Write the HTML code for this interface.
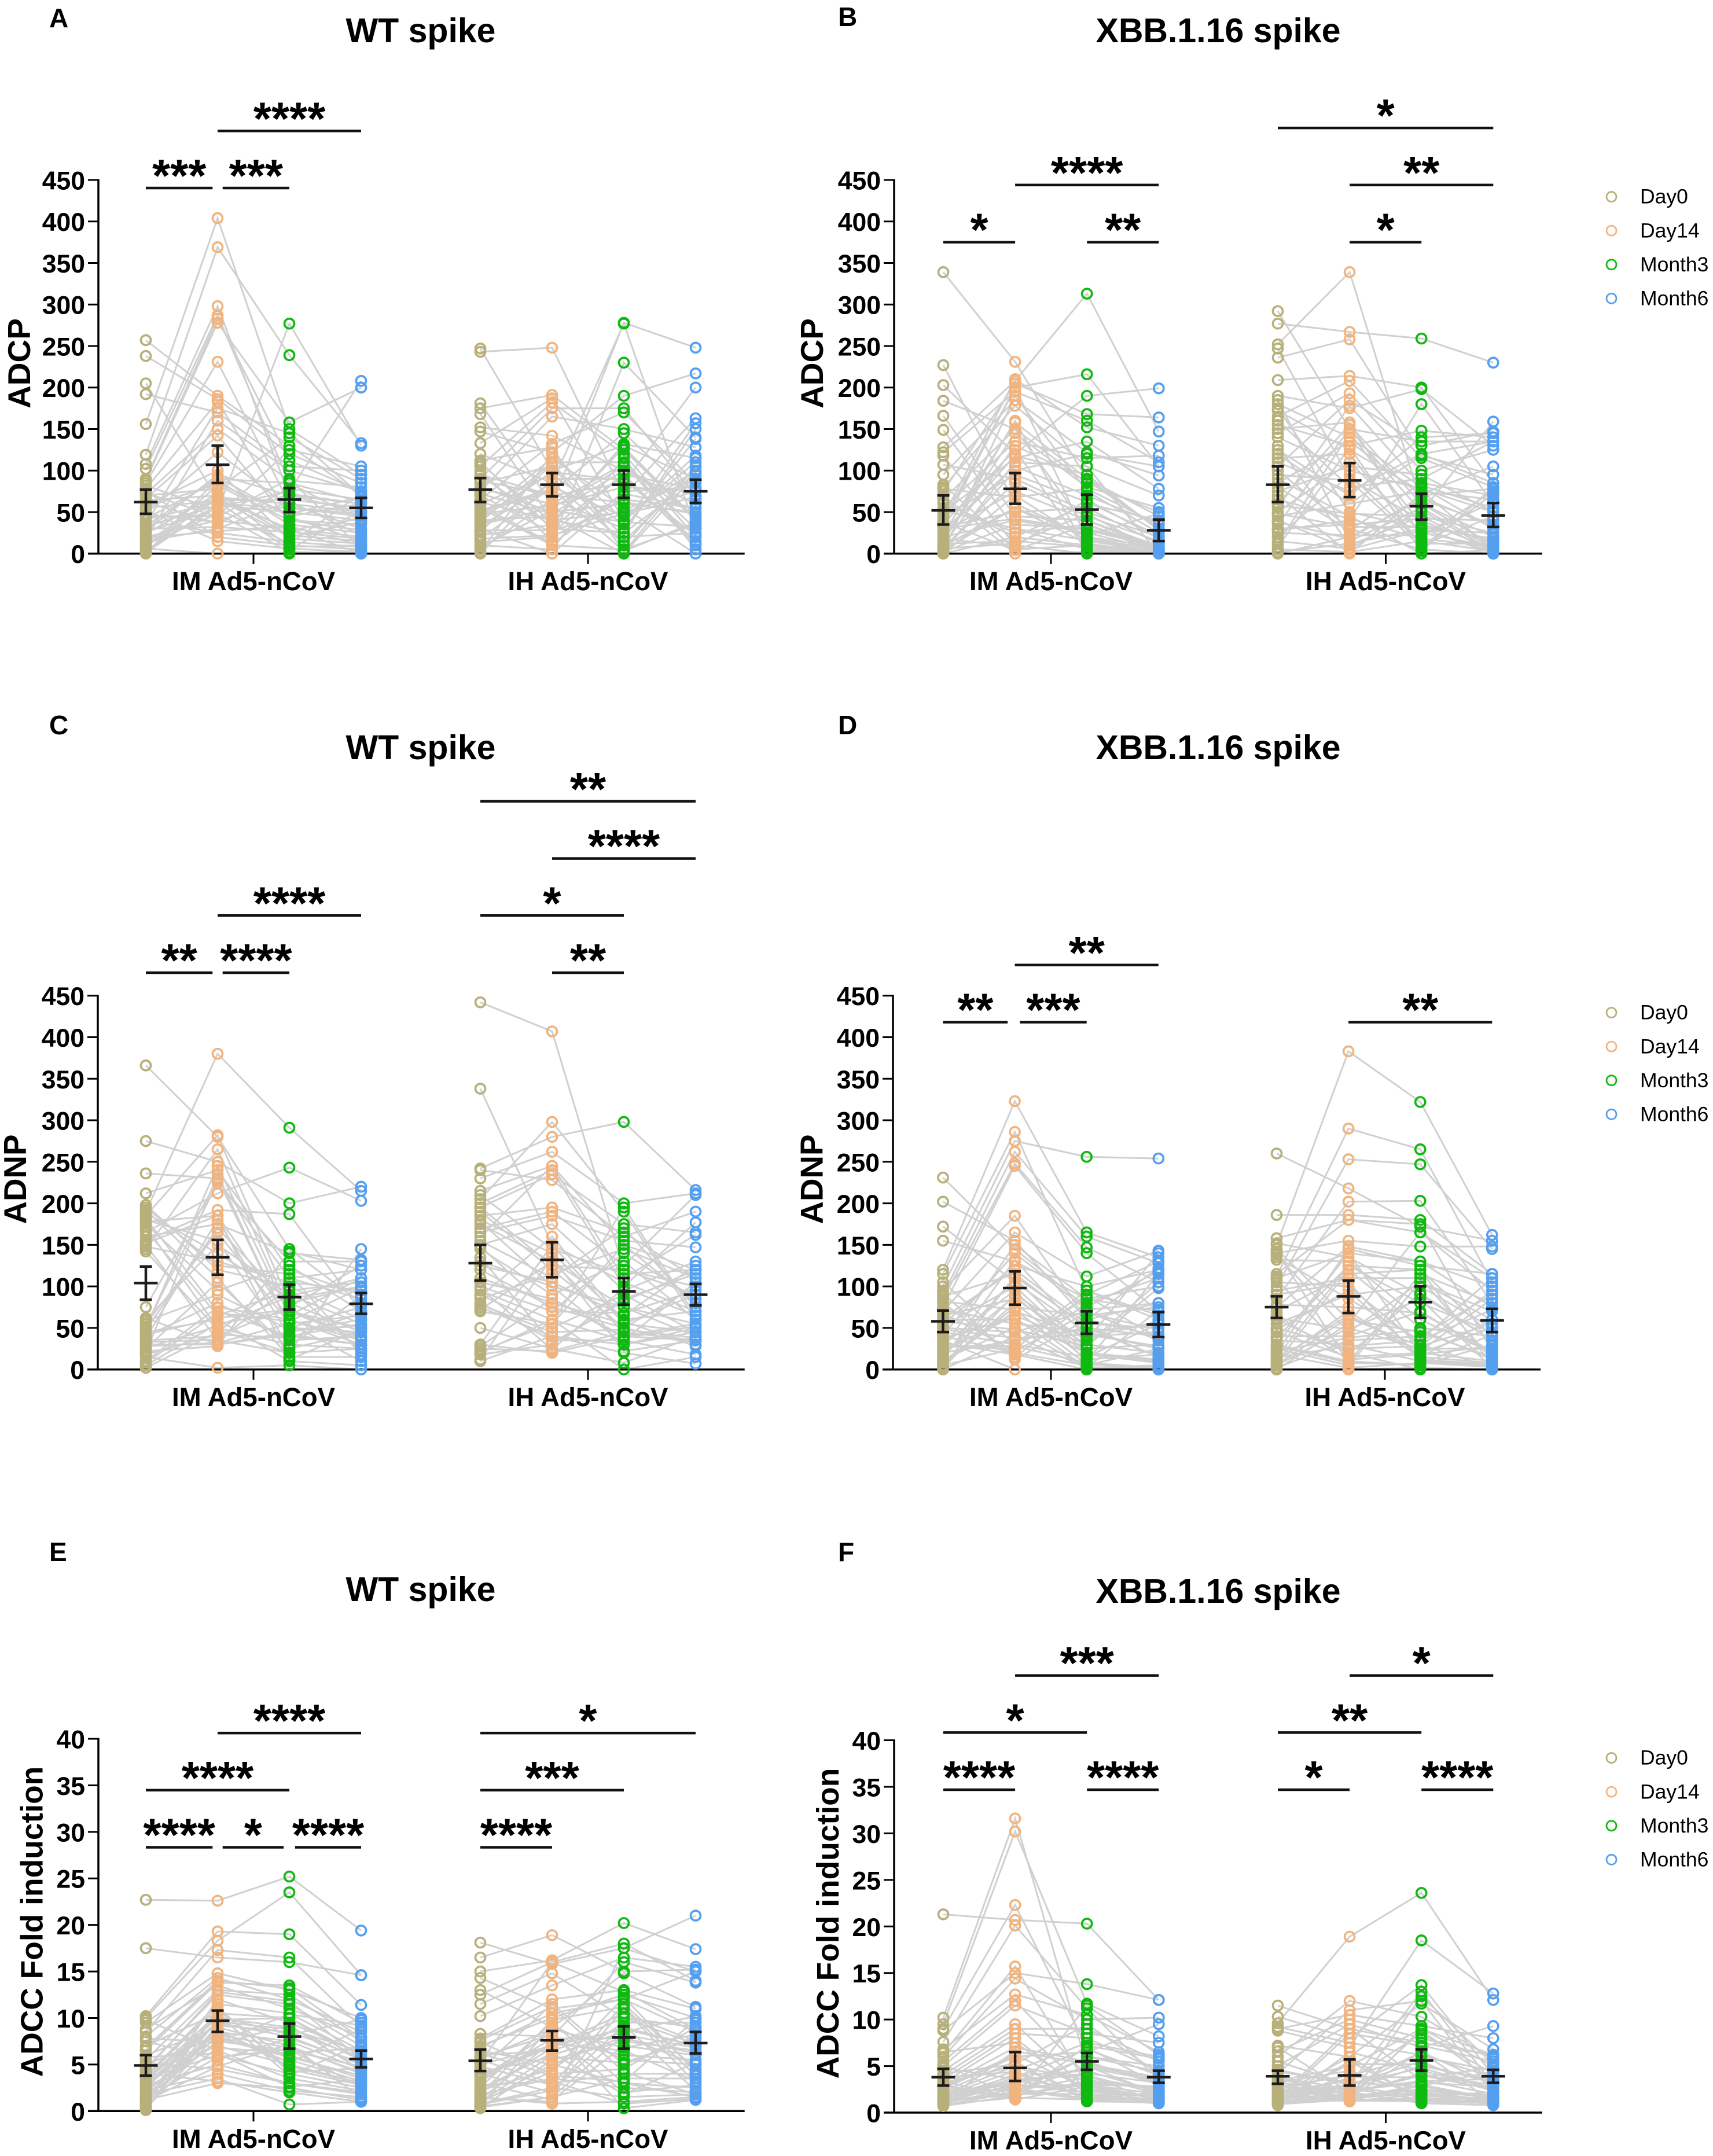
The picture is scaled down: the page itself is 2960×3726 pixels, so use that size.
<!DOCTYPE html>
<html lang="en">
<head>
<meta charset="utf-8">
<title>Fc effector responses: ADCP, ADNP and ADCC</title>
<style>
html,body{margin:0;padding:0;background:#fff;}
svg{display:block;}
text{font-family:"Liberation Sans",Arial,sans-serif;fill:#000;}
</style>
</head>
<body>
<svg id="figure" xmlns="http://www.w3.org/2000/svg" width="2960" height="3726" viewBox="0 0 2960 3726"></svg>
<script>
const timeLabels = ['Day0','Day14','Month3','Month6'];
const groupLabels = ['IM Ad5-nCoV','IH Ad5-nCoV'];
const seriesColors = ['#b8b07a','#f2b47e','#10b910','#549ff0'];

const adcpTicks = [0,50,100,150,200,250,300,350,400,450];
const adccTicks = [0,5,10,15,20,25,30,35,40];

// Panel A: ADCP, WT spike
const aImDay0 = [257,238,205,192,156,119,108,102,90,88,85,82,78,75,72,70,66,62,58,55,52,48,45,42,40,36,33,30,27,24,20,17,14,11,8,6,4,2,1,0,64,47,33,26,15,9,73,56,41,19];
const aImDay14 = [190,186,66,170,404,369,298,287,283,278,231,52,183,20,150,78,142,36,100,64,15,122,45,88,25,175,58,32,95,72,40,160,68,48,82,0,56,74,60,90,70,38,92,54,30,66,44,84,62,27];
const aImMonth3 = [130,120,30,105,150,239,70,85,112,158,60,277,45,10,88,140,40,78,18,65,6,55,125,35,14,145,50,26,70,22,30,100,60,2,40,0,75,8,55,85,28,72,44,12,63,20,90,48,5,33];
const aImMonth6 = [70,85,20,100,95,133,50,40,75,200,30,130,60,5,80,90,35,65,12,55,2,45,105,25,8,70,40,18,60,15,0,75,50,0,28,3,208,10,48,62,42,60,15,72,22,38,6,68,52,10];
const aIhDay0 = [247,243,181,175,168,152,147,133,120,110,105,100,95,90,85,80,75,70,65,60,55,50,45,40,35,30,26,22,18,14,10,5,0,112,108,48,38,28,72,2,88,62,42,18,78,33,58,8,95,52];
const aIhDay14 = [100,248,60,191,40,142,122,187,85,30,182,15,70,175,105,50,165,25,132,95,10,75,115,45,55,0,108,35,80,20,5,65,90,128,38,58,110,28,48,120,70,40,98,22,60,85,12,52,32,78];
const aIhMonth3 = [130,70,278,125,50,100,190,40,277,25,120,230,85,175,10,60,150,95,170,35,5,145,55,0,105,75,20,132,45,65,115,30,90,2,128,80,110,52,100,40,62,25,88,48,108,15,72,38,95,3];
const aIhMonth6 = [90,163,248,40,75,60,217,118,30,150,20,140,200,70,105,50,128,10,85,157,35,65,0,95,45,80,25,115,100,55,5,138,15,105,42,75,30,90,60,110,48,88,22,68,12,98,55,32,78,38];
const aMeans = [62,107,65,55,77,83,83,75];
const aLower = [48,85,50,43,62,69,67,61];
const aUpper = [77,130,79,67,91,97,100,89];
const aBrackets = [[0,.93,0,'***'],[1.07,2,0,'***'],[1,3,1,'****']];

// Panel B: ADCP, XBB.1.16 spike
const bImDay0 = [339,227,203,184,166,149,128,122,118,107,95,83,80,75,70,65,60,55,50,45,40,36,32,28,24,20,16,12,8,5,3,2,0,0,1,4,10,18,26,34,62,44,30,14,6,78,52,22,38,9];
const bImDay14 = [231,60,120,150,45,30,208,195,10,90,185,5,178,205,0,150,25,135,115,210,200,125,50,105,158,40,145,15,85,100,190,35,70,20,110,55,130,8,75,200,20,95,42,160,12,68,30,118,4,55];
const bImMonth3 = [90,20,190,30,40,5,313,160,0,50,122,10,105,168,2,85,35,115,135,152,216,3,55,70,90,25,80,8,45,120,75,30,15,60,105,12,88,65,40,18,10,62,28,4,48,78,16,95,35,22];
const bImMonth6 = [30,8,199,10,5,2,147,110,0,20,94,3,70,164,1,50,6,118,78,130,105,0,12,35,45,4,55,2,15,105,25,7,3,40,0,1,30,18,9,5,4,22,8,14,2,35,6,28,1,48];
const bIhDay0 = [292,277,252,247,236,209,190,180,175,165,155,150,145,130,115,105,90,80,70,60,50,45,35,28,12,5,0,172,160,125,100,140,185,85,40,20,2,110,55,30,65,38,95,15,75,48,8,120,25,58];
const bIhDay14 = [150,267,339,90,258,214,175,140,50,208,130,158,193,10,120,185,45,28,0,155,110,60,150,40,145,2,20,125,80,70,30,100,15,135,5,95,12,75,178,35,42,18,88,6,105,32,128,60,22,48];
const bIhMonth3 = [135,259,60,40,120,200,198,80,30,115,148,20,100,45,10,130,0,85,72,60,25,118,50,180,35,15,65,75,90,140,5,78,55,70,28,12,30,120,82,42,18,68,8,52,95,32,3,75,22,45];
const bIhMonth6 = [135,230,10,5,135,85,130,30,0,80,140,75,125,2,45,147,4,70,105,20,8,95,159,60,15,3,35,65,135,145,0,50,6,78,25,12,2,85,55,40,8,32,72,3,50,18,80,5,62,25];
const bMeans = [52,78,53,28,83,88,57,46];
const bLower = [35,60,35,15,62,68,41,32];
const bUpper = [70,97,71,41,105,109,72,61];
const bBrackets = [[0,1,0,'*'],[2,3,0,'**'],[5,6,0,'*'],[1,3,1,'****'],[5,7,1,'**'],[4,7,2,'*']];

// Panel C: ADNP, WT spike
const cImDay0 = [366,275,236,212,198,190,185,178,165,155,145,182,172,150,160,75,60,55,50,45,40,35,30,25,20,15,10,5,2,188,192,175,168,148,142,52,48,38,28,22,58,33,180,42,18,195,8,152,26,62];
const cImDay14 = [280,250,230,240,120,380,282,185,212,192,265,70,50,35,175,228,150,165,245,60,80,40,30,105,235,2,75,55,45,140,110,95,65,130,48,225,170,180,32,28,90,36,155,62,42,125,68,185,52,30];
const cImMonth3 = [145,200,50,120,100,291,80,60,243,187,70,40,30,20,140,110,90,55,65,10,35,75,45,25,50,5,60,70,110,85,15,125,95,105,20,130,80,40,55,142,48,98,28,72,38,115,58,12,88,42];
const cImMonth6 = [80,220,45,90,60,215,100,35,203,70,50,30,25,145,132,85,55,65,110,5,40,125,60,45,75,0,30,35,120,100,15,70,105,95,25,130,45,55,10,120,52,22,88,38,68,18,98,48,110,30];
const cIhDay0 = [442,338,242,230,215,205,195,185,175,165,150,130,110,95,85,75,50,30,20,10,240,200,190,180,160,145,125,100,90,80,72,30,25,18,155,170,120,210,70,105,78,195,28,135,88,22,178,98,148,12];
const cIhDay14 = [407,150,280,262,245,298,235,195,130,185,175,100,80,60,115,40,25,20,60,40,228,240,120,140,245,90,105,70,50,35,130,150,22,30,110,190,75,145,55,85,45,125,85,32,160,55,100,24,70,135];
const cIhMonth3 = [120,105,298,200,150,190,175,165,45,155,95,75,55,35,145,20,8,40,0,30,160,100,50,60,110,130,65,140,90,35,75,55,45,85,170,125,50,115,195,40,48,120,38,82,58,150,30,98,68,22];
const cIhMonth6 = [90,70,216,212,120,60,165,110,35,147,130,55,45,18,110,7,40,35,15,50,190,177,100,70,162,60,125,85,45,105,40,90,35,115,75,210,30,120,65,55,38,100,52,120,28,80,45,65,95,35];
const cMeans = [104,135,87,79,128,132,94,90];
const cLower = [84,114,72,67,107,111,78,77];
const cUpper = [124,156,102,92,150,153,110,103];
const cBrackets = [[0,.93,0,'**'],[1.07,2,0,'****'],[5,6,0,'**'],[1,3,1,'****'],[4,6,1,'*'],[5,7,2,'****'],[4,7,3,'**']];

// Panel D: ADNP, XBB.1.16 spike
const dImDay0 = [231,202,172,155,120,115,100,90,85,75,95,70,65,60,55,50,45,40,35,30,25,20,15,10,5,0,2,8,80,72,62,52,42,32,22,12,4,105,88,28,48,18,68,38,3,58,28,82,12,92];
const dImDay14 = [145,155,105,130,323,286,275,262,248,245,185,165,85,60,125,45,30,20,0,95,150,35,110,70,25,40,90,75,15,55,120,100,140,18,65,50,80,30,115,28,38,88,22,62,112,48,25,72,132,12];
const dImMonth3 = [75,60,45,85,165,95,256,160,147,140,60,112,30,20,100,70,15,5,0,10,85,50,25,40,90,2,35,65,80,45,55,20,72,0,30,3,12,95,50,8,42,18,68,2,52,28,88,6,38,60];
const dImMonth6 = [118,80,55,70,135,60,254,128,105,70,40,143,20,10,120,35,55,25,0,115,100,15,30,45,130,5,140,75,110,25,50,12,80,3,105,0,18,65,40,2,28,8,48,72,15,98,38,2,58,122];
const dIhDay0 = [260,186,158,150,140,132,112,100,85,70,145,138,105,110,60,45,35,30,25,20,15,10,5,2,0,152,135,95,50,40,28,18,8,0,90,75,65,55,12,115,22,48,108,6,38,142,78,15,62,30];
const dIhDay14 = [218,186,180,383,155,130,290,253,202,115,60,45,100,140,20,15,30,10,5,145,125,70,50,35,0,135,85,110,25,40,8,2,120,55,105,148,12,90,65,180,38,95,18,62,125,8,75,28,48,140];
const dIhMonth3 = [172,180,165,322,148,60,265,247,203,120,45,105,30,130,0,20,10,5,105,125,80,15,25,40,2,90,35,110,28,70,115,8,50,165,12,130,18,100,22,175,48,15,92,28,120,6,68,35,85,20];
const dIhMonth6 = [155,115,95,162,148,20,105,145,80,40,15,60,2,100,0,10,5,30,70,115,45,8,25,90,0,35,110,12,55,18,80,3,40,110,6,75,28,50,85,22,12,60,35,95,5,42,22,72,2,50];
const dMeans = [58,98,56,54,75,88,81,59];
const dLower = [45,78,43,39,62,68,62,45];
const dUpper = [71,118,70,69,88,107,100,73];
const dBrackets = [[0,.9,0,'**'],[1.07,2,0,'***'],[5,7,0,'**'],[1,3,1,'**']];

// Panel E: ADCC, WT spike
const eImDay0 = [22.7,17.5,10.2,10,9.5,8.5,8,7,6.5,6,5.5,5,4.6,4.2,3.8,3.5,3.2,2.8,2.5,2.2,2,1.8,1.5,1.2,1,0.8,0.5,0.3,0.1,9.8,8.8,7.5,5.2,4,3,2.6,1.6,0.9,0.4,6.8,2.4,3.4,1.4,4.4,0.7,5.8,2.9,1.1,3.6,7.8];
const eImDay14 = [22.6,16.5,19.3,18.3,14.8,17.3,14.3,10.5,13.8,9,13,8,12.5,7,11.5,6,10,5,9.5,4,8.5,3.5,7.5,3,12,10.8,9.2,8.2,11,6.5,13.5,5.5,4.5,3.2,7.8,10.2,8.8,6.8,9.8,14,7.2,10.4,5.8,12.8,8.6,6.2,9.6,4.8,11.2,7.4];
const eImMonth3 = [25.2,16,19,23.5,13,16.5,12,10,13.5,7,12.5,6,11.5,5,10.5,4,9,3,8,2.2,7.5,0.7,6.5,2.5,9.5,5.5,8.5,6.8,4.5,3.5,11,7.8,3,2,5.8,8.2,4.8,6.2,10,13.2,9.2,3.8,6.6,11.8,5.2,2.6,8.8,7.2,4.2,10.4];
const eImMonth6 = [19.4,14.6,11.4,14.6,10,9,8.5,6,9.5,4,7.5,3.5,7,3,6.5,2.5,5.5,2,5,1.5,4.5,1,4.8,1.2,6.2,3.2,5.8,4.2,2.8,2.2,8,5.2,1.8,1,3.8,9.8,3,6.8,5.5,7.8,4.4,7.2,2.6,5.6,8.8,3.4,6.4,1.4,4.6,9.2];
const eIhDay0 = [18.1,16.5,15,14.3,13,12.5,11.5,10.2,8.3,7.8,7,6.5,6,5.5,5,4.5,4,3.5,3,2.6,2.2,1.8,1.5,1.2,1,0.8,0.5,0.3,7.4,6.8,5.8,4.8,3.8,2.8,2,1.4,0.9,0.6,0.4,5.2,3.2,6.2,1.7,4.2,0.7,2.4,5.6,1.1,7.6,3.6];
const eIhDay14 = [15.8,18.9,16.2,11,9,16,14.8,13.5,8,12,10,5,6.5,3,7,11.5,2,8.5,1.2,9.5,4.5,3.5,0.8,7.5,6,2.5,1.5,5.5,4,10.5,8.2,2.8,7.2,3.2,6.8,1,5,9.2,1.5,16,7.8,3.8,9.8,5.8,2.2,6.2,8.8,4.2,11.2,7];
const eIhMonth3 = [17.5,15,20.2,12,14.8,18,10,16.5,16,13,12.5,8,9,4,10.5,5,11,0.3,7,3,9.5,2.5,1,6,8.5,1.5,3.5,7.5,4.5,12,2,11.5,6.5,0.8,10,17.5,3,5.5,8.2,12.8,7.8,3.2,11.2,5.2,9.2,1.8,6.8,12.2,4.2,8.8];
const eIhMonth6 = [21,15.2,17.4,15,11.2,14,9,15.5,13.8,11,10,5,7,4,7.5,8,3,1.2,6,2.5,9.5,2,1.5,5.5,10.2,1.8,3.5,6.5,9,8.5,2.8,4.5,3.2,1.3,7.2,15,1.5,5,6.8,8.8,6.2,9.8,3.8,7.8,2.2,5.2,8.2,4.2,1.8,7];
const eMeans = [4.9,9.7,8.0,5.6,5.4,7.6,7.9,7.3];
const eLower = [3.8,8.5,6.7,4.7,4.3,6.5,6.7,6.2];
const eUpper = [6.0,10.8,9.4,6.5,6.6,8.6,9.1,8.5];
const eBrackets = [[0,.93,0,'****'],[1.07,1.92,0,'*'],[2.08,3,0,'****'],[4,5,0,'****'],[0,2,1,'****'],[4,6,1,'***'],[1,3,2,'****'],[4,7,2,'*']];

// Panel F: ADCC, XBB.1.16 spike
const fImDay0 = [21.3,10.2,9.5,9,8.8,7.6,6.8,6.4,6,5.5,5,4.5,4,3.6,3.2,2.9,2.6,2.3,2,1.8,1.6,1.4,1.2,1,0.8,0.7,3,2.4,1.7,1.3,4.2,5.2,2.1,1.5,1.1,0.9,3.4,2.7,1.9,6.5,2.2,1.5,3.8,1.1,2.8,0.9,4.8,1.8,3.2,1.4];
const fImDay14 = [20.7,31.6,30.2,22.3,15,20.1,12.7,15.7,14.4,12,11.5,9.5,9,8.5,8,7,6,5.5,5,4.5,4,3.5,3,2.6,2.2,1.8,1.4,2.4,3.2,6.6,5.2,1.6,2,2.8,3.8,4.2,1.5,2.3,3.4,7.5,3,1.8,4.4,2.2,6.2,1.6,3.6,2.6,5,1.9];
const fImMonth3 = [20.3,5,11.7,7,13.8,11.2,10.5,3,10,4,8.5,2.5,9,8,2,5.5,6.5,1.2,3.5,7.5,4.5,1.8,2.2,1.5,6,3.2,2.8,1.4,4.8,5.2,9.5,11.5,2,3,6.8,1.6,7.2,3.8,4.2,2.4,2.2,3.4,1.6,5,2.6,1.4,4,6,1.9,3];
const fImMonth6 = [12.1,2,8.2,3,12.1,3.5,6.5,1.5,10.2,2,7.5,1.2,5.5,4.5,1,3,9.5,1.1,2.5,6,2.2,1.3,1.8,1.4,5,2.8,1.6,1,3.4,3.8,4.2,6.2,1.2,2,4,1.5,5.8,2.4,3.2,1.7,1.8,2.6,1.2,3.6,1.5,2.2,1.1,4.4,1.9,2.8];
const fIhDay0 = [11.5,10.3,9.6,9,8.8,7.2,6,5,4.6,4.2,3.8,3.4,3,2.7,2.4,2.1,1.9,1.7,1.5,1.3,1.1,1,0.9,0.8,7,5.5,3.2,2.6,1.8,1.2,9.2,6.6,4.4,3.6,2.2,1.6,1.4,1,0.9,2.9,1.2,2,1.6,3.2,1,2.6,1.4,4,1.8,1.1];
const fIhDay14 = [9,8,18.9,10.5,7,6,12,9.5,3,11,2.5,5,2,4,1.5,3.5,1.2,2.8,9,8.5,5.5,1.8,1.4,6.5,2.2,3,4.5,1.6,2.4,1.3,7.5,10,3.2,2,1.2,1.5,5.2,3.8,2.6,1.7,1.8,3,1.4,2.4,4.2,1.6,2.8,1.3,6,2.1];
const fIhMonth3 = [7.5,13.7,23.6,9.3,18.5,11.7,10.3,7,13,12,5,9,4,6,3,8.5,2,6.5,3.5,7.2,1.5,2.5,9,4.5,1,5.5,1.8,12.5,3.2,1.2,6.2,8,2.8,4.2,1.6,2.2,5.2,3.8,1.4,8.8,2.4,4.8,1.4,3.4,2,6.6,1.7,2.9,1.2,4];
const fIhMonth6 = [6.2,4,12.1,8,12.8,6.8,5.8,9.3,3,2,3.5,5,2.5,4.5,1.5,4.2,1.2,3,2,5.5,1,1.8,6.2,2.6,0.8,2.2,1.4,5.2,2.8,1,3.8,6,1.6,2.4,1.1,1.3,3.2,4.8,1.7,3.4,1.6,2.6,1.2,3.6,1.9,1,2.2,4.4,1.4,3];
const fMeans = [3.8,4.8,5.5,3.8,3.9,4.0,5.6,3.9];
const fLower = [2.9,3.4,4.6,3.2,3.1,2.9,4.5,3.2];
const fUpper = [4.7,6.5,6.4,4.5,4.5,5.7,6.8,4.6];
const fBrackets = [[0,1,0,'****'],[2,3,0,'****'],[4,5,0,'*'],[6,7,0,'****'],[0,2,1,'*'],[4,6,1,'**'],[1,3,2,'***'],[5,7,2,'*']];

const svg = document.getElementById('figure');
const NS = 'http://www.w3.org/2000/svg';

function mk(tag, attrs, parent) {
  const el = document.createElementNS(NS, tag);
  for (const k in attrs) el.setAttribute(k, attrs[k]);
  parent.appendChild(el);
  return el;
}

function drawPanel(p) {
  const g = mk('g', {}, svg);
  
  

  const yScale = v => p.yZero - v * (p.yZero - p.yTop) / p.ticks[p.ticks.length - 1];
  const xScale = c => c < 4 ? p.x0 + c * p.step : p.x1 + (c - 4) * p.step;

  const letter = mk('text', {x: p.letterX, y: p.letterY, 'font-size': 46, 'font-weight': 'bold'}, g);
  letter.textContent = p.letter;
  
  

  const title = mk('text', {x: p.titleX, y: p.titleY, 'font-size': 59, 'font-weight': 'bold', 'text-anchor': 'middle'}, g);
  title.textContent = p.title;
  
  

  const yTitle = mk('text', {x: p.yTitleX, y: p.yTitleY, dy: '.36em', 'font-size': p.yTitleSize, 'font-weight': 'bold', 'text-anchor': 'middle', transform: 'rotate(-90 ' + p.yTitleX + ' ' + p.yTitleY + ')'}, g);
  yTitle.textContent = p.yTitle;
  
  

  // connecting lines
  const lines = mk('g', {fill: 'none', stroke: '#d0d0d0', 'stroke-width': 3}, g);
  
  
  p.groups.forEach((grp, gi) => {
    grp[0].forEach((_, i) => {
      const pts = grp.map((col, t) => col[i] === undefined ? '' : xScale(gi * 4 + t) + ',' + yScale(col[i])).join(' ');
      const line = mk('polyline', {points: pts}, lines);
      
      
    });
  });

  // axes
  const yAxis = mk('line', {x1: p.axisX, x2: p.axisX, y1: p.yTop - 1.5, y2: p.yZero, stroke: '#000', 'stroke-width': 3.5}, g);
  
  
  const xAxis = mk('line', {x1: p.axisX - 18, x2: p.axisEnd, y1: p.yZero, y2: p.yZero, stroke: '#000', 'stroke-width': 3.5}, g);
  
  

  p.ticks.forEach(t => {
    const tick = mk('line', {x1: p.axisX - 18, x2: p.axisX, y1: yScale(t), y2: yScale(t), stroke: '#000', 'stroke-width': 3}, g);
    
    
    const lab = mk('text', {x: p.axisX - 23, y: yScale(t) + 16.5, 'font-size': 44.5, 'font-weight': 'bold', 'text-anchor': 'end'}, g);
    lab.textContent = t;
    
    
  });

  groupLabels.forEach((name, gi) => {
    const cx = gi === 0 ? p.tick0 : p.tick1;
    const tick = mk('line', {x1: cx, x2: cx, y1: p.yZero, y2: p.yZero + 18, stroke: '#000', 'stroke-width': 3}, g);
    
    
    const lab = mk('text', {x: cx, y: p.yZero + 63.5, 'font-size': 45.6, 'font-weight': 'bold', 'text-anchor': 'middle'}, g);
    lab.textContent = name;
    
    
  });

  // points
  p.groups.forEach((grp, gi) => {
    grp.forEach((col, t) => {
      col.forEach(v => {
        const c = mk('circle', {cx: xScale(gi * 4 + t), cy: yScale(v), r: 8.5, fill: 'none', stroke: seriesColors[t], 'stroke-width': 3.7}, g);
        
        
      });
    });
  });

  // mean and error bars
  p.means.forEach((m, c) => {
    const x = xScale(c);
    const eb = mk('g', {stroke: '#1c1c1c', 'stroke-width': 4.5}, g);
    
    
    mk('line', {x1: x, x2: x, y1: yScale(p.lower[c]), y2: yScale(p.upper[c])}, eb);
    mk('line', {x1: x - 10.5, x2: x + 10.5, y1: yScale(p.lower[c]), y2: yScale(p.lower[c])}, eb);
    mk('line', {x1: x - 10.5, x2: x + 10.5, y1: yScale(p.upper[c]), y2: yScale(p.upper[c])}, eb);
    mk('line', {x1: x - 20.5, x2: x + 20.5, y1: yScale(m), y2: yScale(m)}, eb);
  });

  // significance brackets
  p.brackets.forEach(b => {
    const yb = p.bracketBase - b[2] * 98.7;
    const xa = xScale(b[0]);
    const xb = xScale(b[1]);
    const line = mk('line', {x1: xa, x2: xb, y1: yb, y2: yb, stroke: '#111', 'stroke-width': 4.5}, g);
    
    
    const st = mk('text', {x: (xa + xb) / 2, y: yb + 6, 'font-size': 80, 'font-weight': 'bold', 'text-anchor': 'middle'}, g);
    st.textContent = b[3];
    
    
  });

  // legend
  if (p.legendY) {
    timeLabels.forEach((name, t) => {
      const ly = p.legendY + t * 58.6;
      const m = mk('circle', {cx: 2784.5, cy: ly, r: 8.5, fill: 'none', stroke: seriesColors[t], 'stroke-width': 2.8}, g);
      
      
      const lab = mk('text', {x: 2834, y: ly + 11.7, 'font-size': 35.5}, g);
      lab.textContent = name;
      
      
    });
  }
}

const leftCol = {x0: 252, x1: 830, step: 124, axisEnd: 1286.7, tick0: 438, tick1: 1016, titleX: 727, letterX: 85};
const rightCol = {x0: 1630, x1: 2208, step: 124.1, axisEnd: 2665, tick0: 1816, tick1: 2394.5, titleX: 2105, letterX: 1448};

drawPanel(Object.assign({}, leftCol, {
  letter: 'A', title: 'WT spike', yTitle: 'ADCP', ticks: adcpTicks, axisX: 170, yZero: 956.7, yTop: 311,
  letterY: 47, titleY: 73, yTitleX: 32, yTitleY: 628, yTitleSize: 55, bracketBase: 325,
  groups: [[aImDay0, aImDay14, aImMonth3, aImMonth6], [aIhDay0, aIhDay14, aIhMonth3, aIhMonth6]],
  means: aMeans, lower: aLower, upper: aUpper, brackets: aBrackets
}));
drawPanel(Object.assign({}, rightCol, {
  letter: 'B', title: 'XBB.1.16 spike', yTitle: 'ADCP', ticks: adcpTicks, axisX: 1545, yZero: 956.7, yTop: 311,
  letterY: 45, titleY: 73, yTitleX: 1402, yTitleY: 628, yTitleSize: 55, bracketBase: 418.5, legendY: 340,
  groups: [[bImDay0, bImDay14, bImMonth3, bImMonth6], [bIhDay0, bIhDay14, bIhMonth3, bIhMonth6]],
  means: bMeans, lower: bLower, upper: bUpper, brackets: bBrackets
}));
drawPanel(Object.assign({}, leftCol, {
  letter: 'C', title: 'WT spike', yTitle: 'ADNP', ticks: adcpTicks, axisX: 169, yZero: 2366.7, yTop: 1720.7,
  letterY: 1269, titleY: 1312, yTitleX: 25.5, yTitleY: 2038, yTitleSize: 54.7, bracketBase: 1681,
  groups: [[cImDay0, cImDay14, cImMonth3, cImMonth6], [cIhDay0, cIhDay14, cIhMonth3, cIhMonth6]],
  means: cMeans, lower: cLower, upper: cUpper, brackets: cBrackets
}));
drawPanel(Object.assign({}, rightCol, {
  letter: 'D', title: 'XBB.1.16 spike', yTitle: 'ADNP', ticks: adcpTicks, axisX: 1543, yZero: 2366.7, yTop: 1720.7,
  x0: 1629.5, x1: 2206, axisEnd: 2662, tick1: 2393,
  letterY: 1269, titleY: 1312, yTitleX: 1402, yTitleY: 2038, yTitleSize: 54.7, bracketBase: 1766.5, legendY: 1750,
  groups: [[dImDay0, dImDay14, dImMonth3, dImMonth6], [dIhDay0, dIhDay14, dIhMonth3, dIhMonth6]],
  means: dMeans, lower: dLower, upper: dUpper, brackets: dBrackets
}));
drawPanel(Object.assign({}, leftCol, {
  letter: 'E', title: 'WT spike', yTitle: 'ADCC Fold induction', ticks: adccTicks, axisX: 170, yZero: 3648.3, yTop: 3005,
  letterY: 2698, titleY: 2767, yTitleX: 54.5, yTitleY: 3321, yTitleSize: 53.4, bracketBase: 3192.5,
  groups: [[eImDay0, eImDay14, eImMonth3, eImMonth6], [eIhDay0, eIhDay14, eIhMonth3, eIhMonth6]],
  means: eMeans, lower: eLower, upper: eUpper, brackets: eBrackets
}));
drawPanel(Object.assign({}, rightCol, {
  letter: 'F', title: 'XBB.1.16 spike', yTitle: 'ADCC Fold induction', ticks: adccTicks, axisX: 1545, yZero: 3651, yTop: 3007.5,
  letterY: 2698, titleY: 2770, yTitleX: 1430, yTitleY: 3324, yTitleSize: 53.4, bracketBase: 3093, legendY: 3038,
  groups: [[fImDay0, fImDay14, fImMonth3, fImMonth6], [fIhDay0, fIhDay14, fIhMonth3, fIhMonth6]],
  means: fMeans, lower: fLower, upper: fUpper, brackets: fBrackets
}));
</script>
</body>
</html>
